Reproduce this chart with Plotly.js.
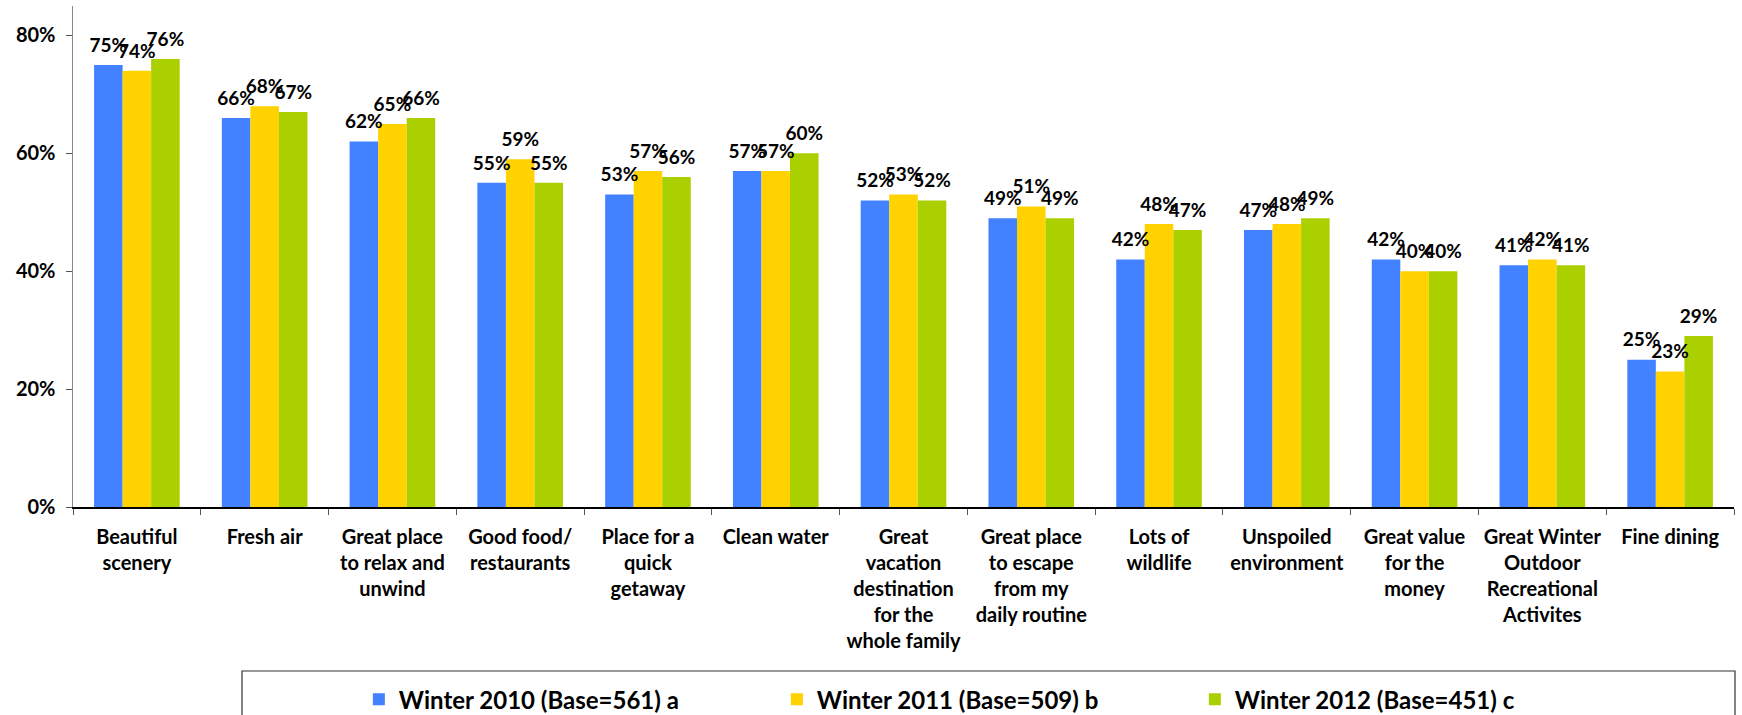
<!DOCTYPE html>
<html>
<head>
<meta charset="utf-8">
<script src="https://cdn.plot.ly/plotly-3.0.1.min.js"></script>
<style>html,body{margin:0;padding:0;background:#fff;}#chart{width:1742px;height:715px;}</style>
</head>
<body>
<div id="chart"></div>
<script>
var categories = [
  "Beautiful<br>scenery",
  "Fresh air",
  "Great place<br>to relax and<br>unwind",
  "Good food/<br>restaurants",
  "Place for a<br>quick<br>getaway",
  "Clean water",
  "Great<br>vacation<br>destination<br>for the<br>whole family",
  "Great place<br>to escape<br>from my<br>daily routine",
  "Lots of<br>wildlife",
  "Unspoiled<br>environment",
  "Great value<br>for the<br>money",
  "Great Winter<br>Outdoor<br>Recreational<br>Activites",
  "Fine dining"
];
var seriesNames = ["Winter 2010 (Base=561) a", "Winter 2011 (Base=509) b", "Winter 2012 (Base=451) c"];
var winter2010 = [75, 66, 62, 55, 53, 57, 52, 49, 42, 47, 42, 41, 25];
var winter2011 = [74, 68, 65, 59, 57, 57, 53, 51, 48, 48, 40, 42, 23];
var winter2012 = [76, 67, 66, 55, 56, 60, 52, 49, 47, 49, 40, 41, 29];
var yTickVals = [0, 20, 40, 60, 80];

var colors = ["#4281FF", "#FFD200", "#AAD000"];
var FONT = "Lato, 'Open Sans', sans-serif";
var allSeries = [winter2010, winter2011, winter2012];
var GAP = 0.33;

var traces = [];
allSeries.forEach(function (vals, i) {
  traces.push({
    type: "bar",
    name: seriesNames[i],
    x: categories,
    y: vals,
    offsetgroup: "g" + i,
    marker: {color: colors[i]},
    hoverinfo: "none"
  });
});
allSeries.forEach(function (vals, i) {
  traces.push({
    type: "scatter",
    mode: "markers+text",
    x: categories,
    y: vals,
    offsetgroup: "g" + i,
    text: vals.map(function (v) { return v + "%"; }),
    textposition: "top center",
    textfont: {family: FONT, size: 19, color: "#000", weight: "bold"},
    marker: {size: 12, opacity: 0, color: colors[i]},
    cliponaxis: false,
    showlegend: false,
    hoverinfo: "none"
  });
});

var layout = {
  width: 1742,
  height: 715,
  margin: {l: 73, r: 8, t: 6, b: 208, autoexpand: false},
  paper_bgcolor: "#fff",
  plot_bgcolor: "#fff",
  barmode: "group",
  bargap: GAP,
  bargroupgap: 0,
  scattermode: "group",
  scattergap: GAP,
  font: {family: FONT, size: 19, color: "#000", weight: "bold"},
  showlegend: true,
  legend: {
    orientation: "h",
    xref: "container", yref: "container",
    x: 0.206, xanchor: "left",
    y: 0.053, yanchor: "top",
    entrywidth: 373,
    bgcolor: "rgba(0,0,0,0)",
    borderwidth: 0,
    font: {family: FONT, size: 24, color: "#000", weight: "bold"},
    traceorder: "normal"
  },
  xaxis: {
    type: "category",
    automargin: false,
    showline: true, linecolor: "#000", linewidth: 1.5,
    ticks: "outside", tickson: "boundaries", ticklen: 6, tickcolor: "#555",
    showgrid: false,
    tickfont: {family: FONT, size: 20, color: "#000", weight: "bold"},
    ticklabelstandoff: 11
  },
  yaxis: {
    automargin: false,
    range: [0, 85],
    tickvals: yTickVals,
    ticktext: yTickVals.map(function (v) { return v + "%"; }),
    showline: true, linecolor: "#888", linewidth: 1.5,
    ticks: "outside", ticklen: 6, tickcolor: "#555",
    showgrid: false, zeroline: false,
    tickfont: {family: FONT, size: 20, color: "#000", weight: "bold"},
    ticklabelstandoff: 6
  },
  shapes: [{
    type: "rect", xref: "paper", yref: "paper",
    x0: (242 - 73) / 1661, x1: (1735 - 73) / 1661,
    y0: -0.52, y1: (507 - 671) / 501,
    line: {color: "#333", width: 1.2},
    fillcolor: "rgba(0,0,0,0)"
  }]
};

Plotly.newPlot("chart", traces, layout, {staticPlot: true});
</script>
</body>
</html>
